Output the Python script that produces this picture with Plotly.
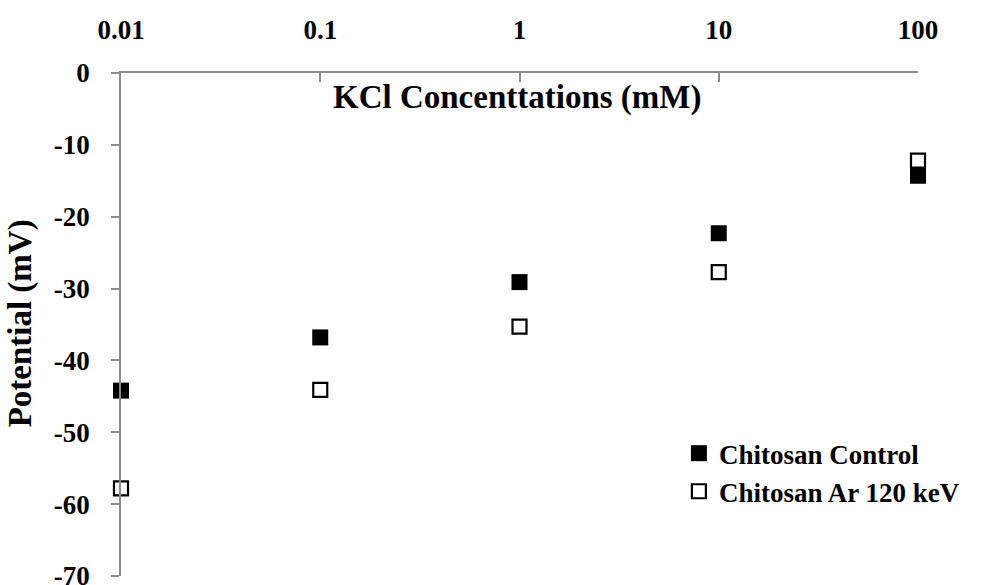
import plotly.graph_objects as go

concentrations = [0.01, 0.1, 1, 10, 100]
control = [-44.2, -36.8, -29.1, -22.3, -14.3]
ar120 = [-57.8, -44.1, -35.3, -27.7, -12.2]
x_tick_vals = [0.01, 0.1, 1, 10, 100]
x_tick_text = ["0.01", "0.1", "1", "10", "100"]
y_tick_vals = [0, -10, -20, -30, -40, -50, -60, -70]
y_tick_text = ["0", "-10", "-20", "-30", "-40", "-50", "-60", "-70"]

FONT = "Liberation Serif"
AXIS_COLOR = "#8c8c8c"

fig = go.Figure()
fig.add_trace(go.Scatter(
    x=concentrations, y=control, mode="markers", name="Chitosan Control",
    marker=dict(symbol="square", size=16, color="black", line=dict(width=0)),
    cliponaxis=False,
))
fig.add_trace(go.Scatter(
    x=concentrations, y=ar120, mode="markers", name="Chitosan Ar 120 keV",
    marker=dict(symbol="square", size=14, color="white", line=dict(width=2.2, color="black")),
    cliponaxis=False,
))

fig.update_layout(
    width=988, height=585,
    margin=dict(l=121, r=70, t=73, b=9, autoexpand=False),
    paper_bgcolor="white", plot_bgcolor="white",
    font=dict(family=FONT, size=27, color="black", weight="bold"),
    showlegend=True,
    legend=dict(
        x=0.70, y=0.292, xanchor="left", yanchor="top",
        bgcolor="rgba(0,0,0,0)", borderwidth=0,
        font=dict(family=FONT, size=27, color="black", weight="bold"),
        tracegroupgap=0,
    ),
    xaxis=dict(
        type="log", range=[-2, 2], side="top", automargin=False,
        tickvals=x_tick_vals, ticktext=x_tick_text,
        ticks="inside", ticklen=9, tickcolor=AXIS_COLOR, tickwidth=1.5,
        showline=True, linecolor=AXIS_COLOR, linewidth=1.5,
        showgrid=False, zeroline=False, ticklabelstandoff=21,
        tickfont=dict(family=FONT, size=27, color="black", weight="bold"),
    ),
    yaxis=dict(
        range=[-70, 0], tickvals=y_tick_vals, ticktext=y_tick_text, automargin=False,
        ticks="outside", ticklen=8, tickcolor=AXIS_COLOR, tickwidth=1.5,
        showline=True, linecolor=AXIS_COLOR, linewidth=1.5,
        showgrid=False, zeroline=False, ticklabelstandoff=16,
        ticklabeloverflow="allow",
        tickfont=dict(family=FONT, size=27, color="black", weight="bold"),
    ),
    annotations=[
        dict(text="KCl Concenttations (mM)", xref="paper", yref="paper",
             x=0.497, y=0.952, xanchor="center", yanchor="middle", showarrow=False,
             font=dict(family=FONT, size=33, color="black", weight="bold")),
        dict(text="Potential (mV)", xref="paper", yref="paper",
             x=-0.125, y=0.503, xanchor="center", yanchor="middle", showarrow=False,
             textangle=-90,
             font=dict(family=FONT, size=33, color="black", weight="bold")),
    ],
)

fig.write_html("out.html")
